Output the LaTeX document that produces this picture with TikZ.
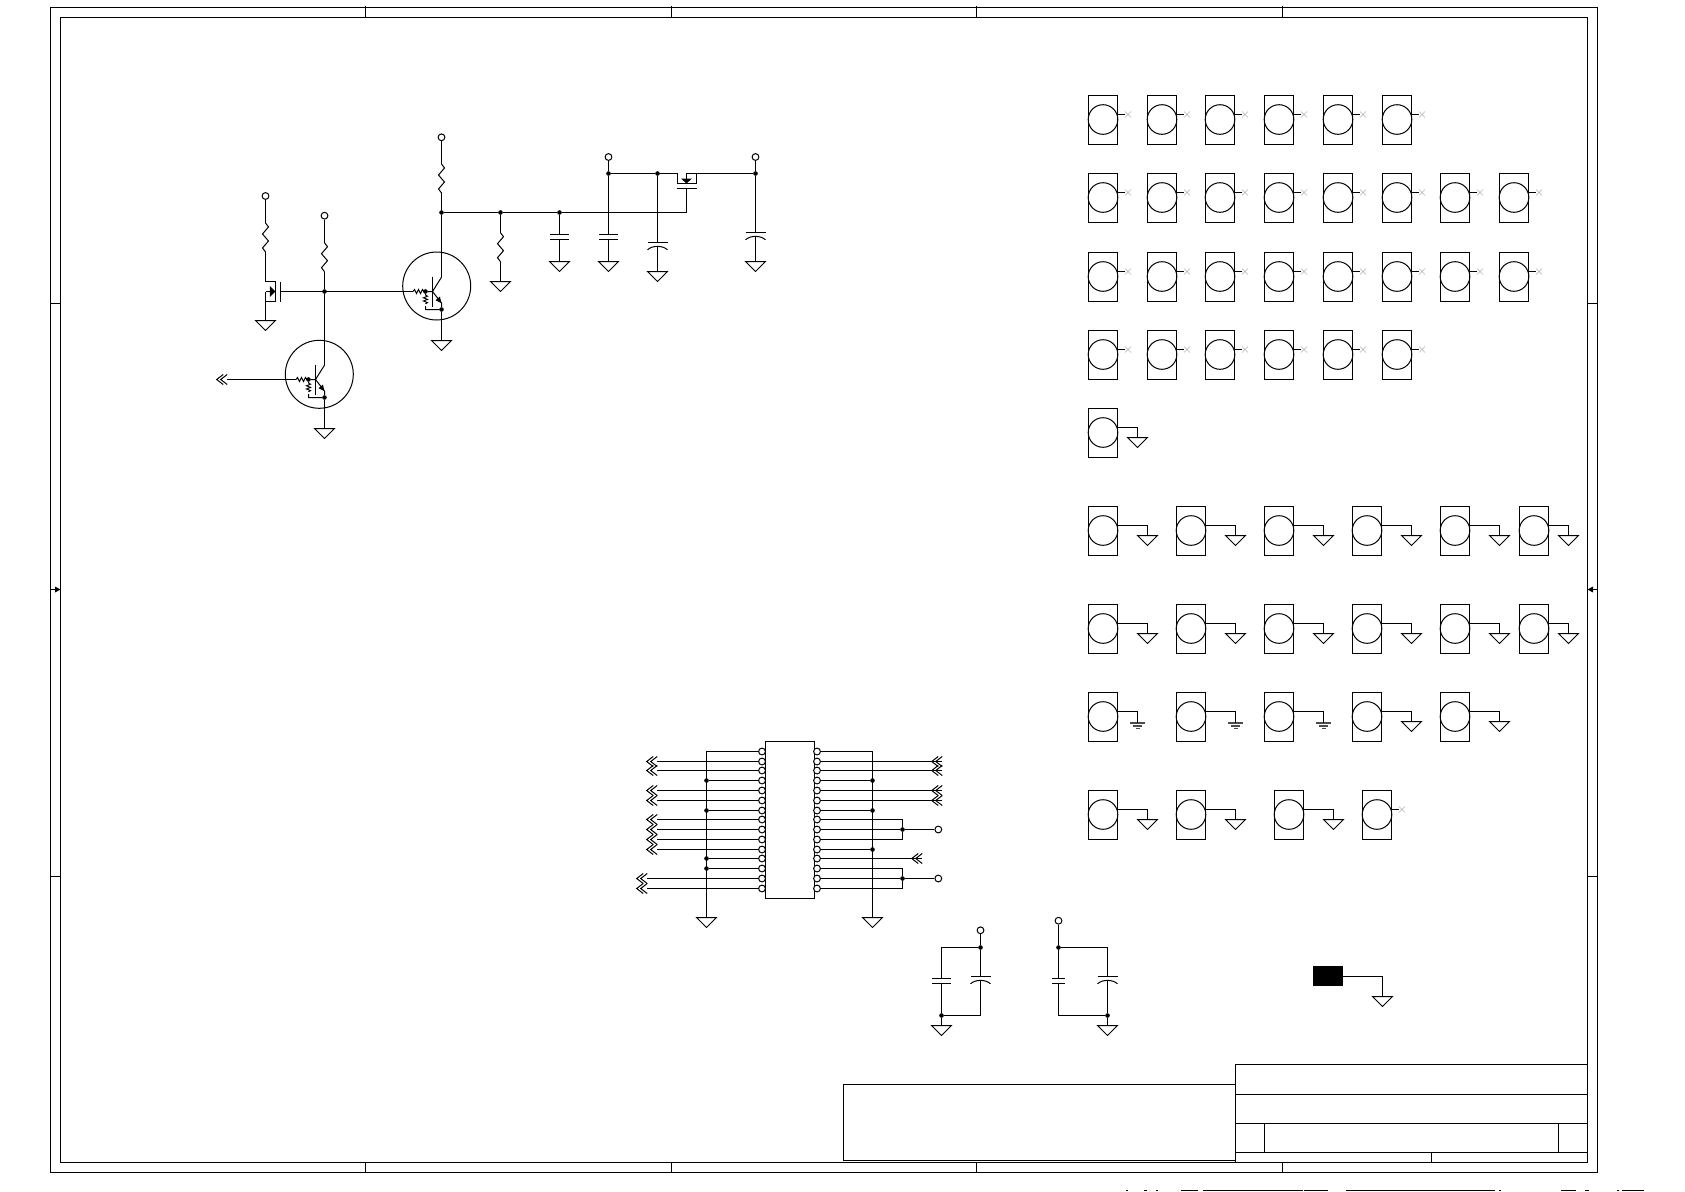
\documentclass[tikz,border=0pt]{standalone}
\usetikzlibrary{calc}
\tikzset{
  wire/.style={line width=1pt,line join=miter,black},
  pinc/.style={circle,draw,line width=1pt,inner sep=0pt,minimum size=6.8pt,fill=white},
  dotj/.style={circle,fill=black,inner sep=0pt,minimum size=4.6pt},
  icbody/.style={draw,line width=1pt,inner sep=0pt,minimum width=49pt,minimum height=157pt},
  conbox/.style={draw,line width=1pt,inner sep=0pt,minimum width=29pt,minimum height=49pt},
  concirc/.style={circle,draw,line width=1pt,inner sep=0pt,minimum size=29.6pt},
  qcirc/.style={circle,draw,line width=1pt,inner sep=0pt,minimum size=68pt},
  ncx/.style={line width=0.6pt,gray!60},
  earthbar/.style={line width=1.7pt,gray!60!black},
  clipped/.style={line width=1pt,black}
}
% ground symbol
\newcommand\Gnd[3]{\coordinate (#1) at (#2,#3);
  \draw[wire] (#1) +(-10,0) -- +(10,0) -- +(0,10) -- cycle;}
% earth symbol
\newcommand\Earth[3]{\coordinate (#1) at (#2,#3);
  \draw[earthbar] (#1) +(-7.3,0) -- +(7.3,0) +(-4.5,2.8) -- +(4.5,2.8) +(-2,5.5) -- +(2,5.5);}
% vertical resistor 29 long
\newcommand\ResV[3]{\coordinate (#1-a) at (#2,#3);\coordinate (#1-b) at (#2,#3+29);
  \draw[wire] (#1-a) -- ++(3,4) -- ++(-6,7) -- ++(6,7) -- ++(-6,7) -- (#1-b);}
% plain capacitor
\newcommand\CapN[4]{\coordinate (#1-a) at (#2,#3);\coordinate (#1-b) at (#2,#3+5);
  \draw[wire] (#1-a) +(-#4,0) -- +(#4,0) (#1-b) +(-#4,0) -- +(#4,0);}
% polarised capacitor
\newcommand\CapP[3]{\coordinate (#1-a) at (#2,#3);\coordinate (#1-b) at (#2,#3+3.8);
  \draw[wire] (#1-a) +(-10,0) -- +(10,0);
  \draw[wire,shift={(#1-b)}] (-10,3.5) .. controls (-5,-1.1) and (5,-1.1) .. (10,3.5);}
% double chevron; the named point is where the wire ends
\newcommand\Chev[3]{\coordinate (#1) at (#2+10.5,0 |- #3);
  \draw[wire] (#1) +(-4,-5) -- +(-10.5,0) -- +(-4,5) +(0,-5) -- +(-6.5,0) -- +(0,5);}
% connector body
\newcommand\Conn[3]{\node[conbox] (#1) at (#2+14.5,#3+24.5) {};
  \node[concirc] (#1-c) at (#2+14.5,#3+24) {};
  \coordinate (#1-s) at (#2+29,#3+19);}
% unconnected connector
\newcommand\ConnNC[3]{\Conn{#1}{#2}{#3}
  \coordinate (#1-x) at (#2+39.5,#3+19);
  \draw[wire] (#1-s) -- ++(7.7,0);
  \draw[ncx] (#1-x) +(-3,-3) -- +(3,3) +(-3,3) -- +(3,-3);}
% grounded connector, #4 = ground offset
\newcommand\ConnG[4]{\Conn{#1}{#2}{#3}
  \Gnd{#1-g}{#2+#4}{#3+29}
  \draw[wire] (#1-s) -| (#1-g);}
\newcommand\ConnE[4]{\Conn{#1}{#2}{#3}
  \Earth{#1-g}{#2+#4}{#3+30.4}
  \draw[wire] (#1-s) -| (#1-g);}
% NPN with bias resistors: name, base x, base y
\newcommand\Qnpn[3]{%
  \coordinate (#1-B) at (#2,#3);
  \coordinate (#1-C) at (#2+9,#3-14.3);
  \coordinate (#1-E) at (#2+9,#3+11.6);
  \coordinate (#1-J) at (#2-7,#3);
  \coordinate (#1-R) at (#2-19.5,#3);
  \coordinate (#1-K) at (#2-7,#3+18);
  \node[dotj] (#1-D1) at (#1-J) {};
  \node[dotj] (#1-D2) at (#2+9,#3+18) {};
  \draw[wire] (#1-B) +(0,-15) -- +(0,15);
  \draw[wire] (#1-C) -- (#1-B) -- (#1-E) -- (#1-D2) -- (#1-K) -- (#1-D1) -- (#1-B);
  \fill (#1-E) -- +(-1.6,-6.5) -- +(-6,-2.9) -- cycle;
  \draw[wire] (#1-R) -- ++(1.5,-2) -- ++(2,4) -- ++(2,-4) -- ++(2,4) -- ++(2,-4) -- ++(2,3) -- (#1-J);
  \fill[white] (#2-7-1.6,#3+3.5) rectangle (#2-7+1.6,#3+14);
  \draw[wire] (#2-7,#3+3.5) -- ++(2,1.2) -- ++(-4,1.6) -- ++(4,1.6) -- ++(-4,1.6) -- ++(4,1.6) -- ++(-2,1.2);
}
\begin{document}
\begin{tikzpicture}[x=1pt,y=-1pt]
\useasboundingbox (0,0) rectangle (1685,1191);
% ---- sheet frame
\coordinate (fo) at (50.5,7.5); \coordinate (fO) at (1597.5,1172.5);
\coordinate (fi) at (60.5,17.5); \coordinate (fI) at (1587.5,1162.5);
\draw[wire] (fo) rectangle (fO);
\draw[wire] (fi) rectangle (fI);
\foreach \x in {365.5,671.5,976.5,1282.5}{
  \draw[wire] (\x,5.5) -- (\x,17.5);
  \draw[wire] (\x,1162.5) -- (\x,1172.5);
}
\foreach \y in {303.5,876.5}{
  \draw[wire] (50.5,\y) -- (60.5,\y);
  \draw[wire] (1587.5,\y) -- (1597.5,\y);
}
\draw[wire] (50.5,589.5) -- (60.5,589.5);
\fill (60.5,589.5) -- ++(-5.5,-3) -- ++(0,6) -- cycle;
\draw[wire] (1587.5,589.5) -- (1597.5,589.5);
\fill (1587.5,589.5) -- ++(5.5,-3) -- ++(0,6) -- cycle;
% ---- title block
\coordinate (ta) at (1235.5,1064.5); \coordinate (tb) at (1587.5,1162.5);
\draw[wire] (ta) rectangle (tb);
\draw[wire] (1235.5,1094.5) -- (1587.5,1094.5);
\draw[wire] (1235.5,1123.5) -- (1587.5,1123.5);
\draw[wire] (1235.5,1152.5) -- (1587.5,1152.5);
\draw[wire] (1264.5,1123.5) -- (1264.5,1152.5);
\draw[wire] (1558.5,1123.5) -- (1558.5,1152.5);
\draw[wire] (1431.5,1152.5) -- (1431.5,1162.5);
\draw[wire] (843.5,1084.5) rectangle (1235.5,1160.5);
% ---- page-edge fragment
\foreach \a/\b in {1126/1128,1144/1147,1156/1158,1181/1198,1203/1303,1304/1328,1346/1495,1499/1501,1561/1576,1585/1589,1617/1619,1622/1644}{
  \draw[clipped] (\a,1190.5) -- (\b,1190.5);
}

% ---- transistor stage
\node[pinc] (p1) at (265.5,196) {};
\ResV{r1}{265.5}{223}
\draw[wire] (p1) -- (r1-a);
\Gnd{g1}{265.5}{320.5}
\coordinate (m1d) at (265.5,281.5);
\coordinate (m1a) at (275.5,281.5);
\coordinate (m1b) at (275.5,301.5);
\coordinate (m1c) at (265.5,301.5);
\coordinate (m1s) at (265.5,291.5);
\coordinate (m1t) at (275.5,291.5);
\draw[wire] (r1-b) -- (m1d) -- (m1a) -- (m1b) -- (m1c) -- (m1s);
\draw[wire] (m1c) -- (g1);
\draw[wire] (m1s) -- (m1t);
\fill (m1t) -- ++(-5.7,-5.5) -- ++(0,11) -- cycle;
\coordinate (m1g) at (280.5,291.5);
\draw[wire] (280.5,281.5) -- (280.5,301.5);

\node[pinc] (p2) at (324.5,215.7) {};
\ResV{r2}{324.5}{242.7}
\draw[wire] (p2) -- (r2-a);
\node[dotj] (j1) at (324.5,291.5) {};
\draw[wire] (r2-b) -- (j1);

% lower transistor
\node[qcirc] (q3c) at (319.3,374.3) {};
\Qnpn{q3}{315.5}{379.5}
\draw[wire] (j1) -- (q3-C);
\Chev{in1}{216.7}{q3-R}
\draw[wire] (in1) -- (q3-R);
\Gnd{g3}{324.5}{428.5}
\draw[wire] (q3-D2) -- (g3);

% upper transistor
\node[qcirc] (q2c) at (436.7,286) {};
\Qnpn{q2}{432.5}{291.5}
\draw[wire] (m1g) -- (q2-R);
\Gnd{g2}{441.5}{340.5}
\draw[wire] (q2-D2) -- (g2);
\node[pinc] (p3) at (441.5,137.3) {};
\ResV{r3}{441.5}{164}
\draw[wire] (p3) -- (r3-a);
\node[dotj] (j2) at (441.5,212.5) {};
\draw[wire] (r3-b) -- (j2) -- (q2-C);

% rail
\node[dotj] (j3) at (500.5,212.5) {};
\node[dotj] (j4) at (559.5,212.5) {};
\coordinate (m2g) at (686.5,212.5);
\draw[wire] (j2) -- (j3) -- (j4) -- (m2g);
\ResV{r4}{500.5}{232.7}
\Gnd{g4}{500.5}{281.5}
\draw[wire] (j3) -- (r4-a) (r4-b) -- (g4);
\CapN{c1}{559.5}{234.5}{9.3}
\Gnd{g5}{559.5}{261.5}
\draw[wire] (j4) -- (c1-a) (c1-b) -- (g5);

\node[pinc] (p4) at (608.5,157) {};
\node[dotj] (j5) at (608.5,173.5) {};
\node[dotj] (j6) at (657.5,173.5) {};
\draw[wire] (p4) -- (j5) -- (j6);
\CapN{c2}{608.5}{234.5}{9.3}
\Gnd{g6}{608.5}{261.5}
\draw[wire] (j5) -- (c2-a) (c2-b) -- (g6);
\CapP{c3}{657.5}{242.5}
\Gnd{g7}{657.5}{271.5}
\draw[wire] (j6) -- (c3-a) (c3-b) -- (g7);

\coordinate (m2a) at (677.5,173.5);
\coordinate (m2b) at (677.5,183.5);
\coordinate (m2c) at (696.5,183.5);
\coordinate (m2d) at (696.5,173.5);
\coordinate (m2s) at (686.5,173.5);
\coordinate (m2t) at (686.5,183.5);
\coordinate (m2p) at (686.5,188.5);
\node[pinc] (p5) at (755.5,157) {};
\node[dotj] (j7) at (755.5,173.5) {};
\draw[wire] (j6) -- (m2a) -- (m2b) -- (m2c) -- (m2d) -- (m2s) -- (m2t);
\draw[wire] (m2d) -- (j7) -- (p5);
\fill (m2t) -- ++(-5.5,-5) -- ++(11,0) -- cycle;
\draw[wire] (676.5,188.5) -- (696.5,188.5);
\draw[wire] (m2p) -- (m2g);
\CapP{c4}{755.5}{232.5}
\Gnd{g8}{755.5}{261.5}
\draw[wire] (j7) -- (c4-a) (c4-b) -- (g8);

% ---- IC
\node[icbody] (ic) at (790,820) {};
\foreach \i in {1,...,15}{
  \pgfmathsetmacro\yy{floor(751.3+(\i-1)*9.79)+0.5}
  \node[pinc] (L\i) at (762,\yy) {};
  \node[pinc] (R\i) at (817,\yy) {};
}
\Gnd{gL}{706.5}{917.5}
\Gnd{gR}{872.5}{917.5}
\draw[wire] (L1) -| (gL);
\draw[wire] (R1) -| (gR);
\foreach \i in {4,7,12,13}{
  \node[dotj] (dl\i) at (706.5,0 |- L\i) {};
  \draw[wire] (L\i) -- (dl\i);
}
\foreach \i in {4,7,11}{
  \node[dotj] (dr\i) at (872.5,0 |- R\i) {};
  \draw[wire] (R\i) -- (dr\i);
}
\foreach \i in {2,3,5,6,8,9,10,11}{
  \Chev{sl\i}{646.7}{L\i}
  \draw[wire] (L\i) -- (sl\i);
}
\foreach \i in {14,15}{
  \Chev{sl\i}{636.7}{L\i}
  \draw[wire] (L\i) -- (sl\i);
}
\foreach \i in {2,3,5,6}{
  \Chev{sr\i}{931.7}{R\i}
  \draw[wire] (R\i) -- (sr\i);
}
\Chev{sr12}{911.7}{R12}
\draw[wire] (R12) -- (sr12);
\node[dotj] (v1) at (902.5,0 |- R9) {};
\node[pinc] (p6) at (938.3,0 |- R9) {};
\draw[wire] (R8) -| (v1);
\draw[wire] (R10) -| (v1);
\draw[wire] (R9) -- (v1) -- (p6);
\node[dotj] (v2) at (902.5,0 |- R14) {};
\node[pinc] (p7) at (938.3,0 |- R14) {};
\draw[wire] (R13) -| (v2);
\draw[wire] (R15) -| (v2);
\draw[wire] (R14) -- (v2) -- (p7);

% ---- connector field
\foreach \x [count=\k] in {1088.5,1147.5,1205.5,1264.5,1323.5,1382.5}{
  \ConnNC{ca\k}{\x}{95.5}
  \ConnNC{cd\k}{\x}{330.5}
}
\foreach \x [count=\k] in {1088.5,1147.5,1205.5,1264.5,1323.5,1382.5,1440.5,1499.5}{
  \ConnNC{cb\k}{\x}{173.5}
  \ConnNC{cc\k}{\x}{252.5}
}
\ConnG{ce1}{1088.5}{408.5}{49}
\foreach \x/\o [count=\k] in {1088.5/59,1176.5/59,1264.5/59,1352.5/59,1440.5/59,1519.5/49}{
  \ConnG{cf\k}{\x}{506.5}{\o}
  \ConnG{cg\k}{\x}{604.5}{\o}
}
\ConnE{ch1}{1088.5}{692.5}{49}
\ConnE{ch2}{1176.5}{692.5}{59}
\ConnE{ch3}{1264.5}{692.5}{59}
\ConnG{ch4}{1352.5}{692.5}{59}
\ConnG{ch5}{1440.5}{692.5}{59}
\ConnG{ci1}{1088.5}{790.5}{59}
\ConnG{ci2}{1176.5}{790.5}{59}
\ConnG{ci3}{1274.5}{790.5}{59}
\ConnNC{ci4}{1362.5}{790.5}

% ---- bottom capacitors
\node[pinc] (p8) at (980.5,930.3) {};
\node[dotj] (j8) at (980.5,947.5) {};
\coordinate (k1) at (941.5,947.5);
\CapN{c5}{941.5}{978.5}{9.3}
\CapP{c6}{980.5}{976.5}
\node[dotj] (j9) at (941.5,1015.5) {};
\coordinate (k2) at (980.5,1015.5);
\Gnd{g9}{941.5}{1025.5}
\draw[wire] (p8) -- (j8) -- (c6-a) (c6-b) -- (k2) -- (j9) -- (g9);
\draw[wire] (j8) -- (k1) -- (c5-a) (c5-b) -- (j9);

\node[pinc] (p9) at (1058.5,920.7) {};
\node[dotj] (j10) at (1058.5,947.5) {};
\coordinate (k3) at (1107.5,947.5);
\CapN{c7}{1058.5}{978.5}{6.7}
\CapP{c8}{1107.5}{976.5}
\node[dotj] (j11) at (1107.5,1015.5) {};
\coordinate (k4) at (1058.5,1015.5);
\Gnd{g10}{1107.5}{1025.5}
\draw[wire] (p9) -- (j10) -- (c7-a) (c7-b) -- (k4) -- (j11) -- (g10);
\draw[wire] (j10) -- (k3) -- (c8-a) (c8-b) -- (j11);

% ---- black pad
\node[fill=black,inner sep=0pt,minimum width=30pt,minimum height=20pt] (pad) at (1328,976) {};
\coordinate (padw) at (1343,976.5);
\Gnd{g11}{1382.5}{996.5}
\draw[wire] (padw) -| (g11);
\end{tikzpicture}
\end{document}
